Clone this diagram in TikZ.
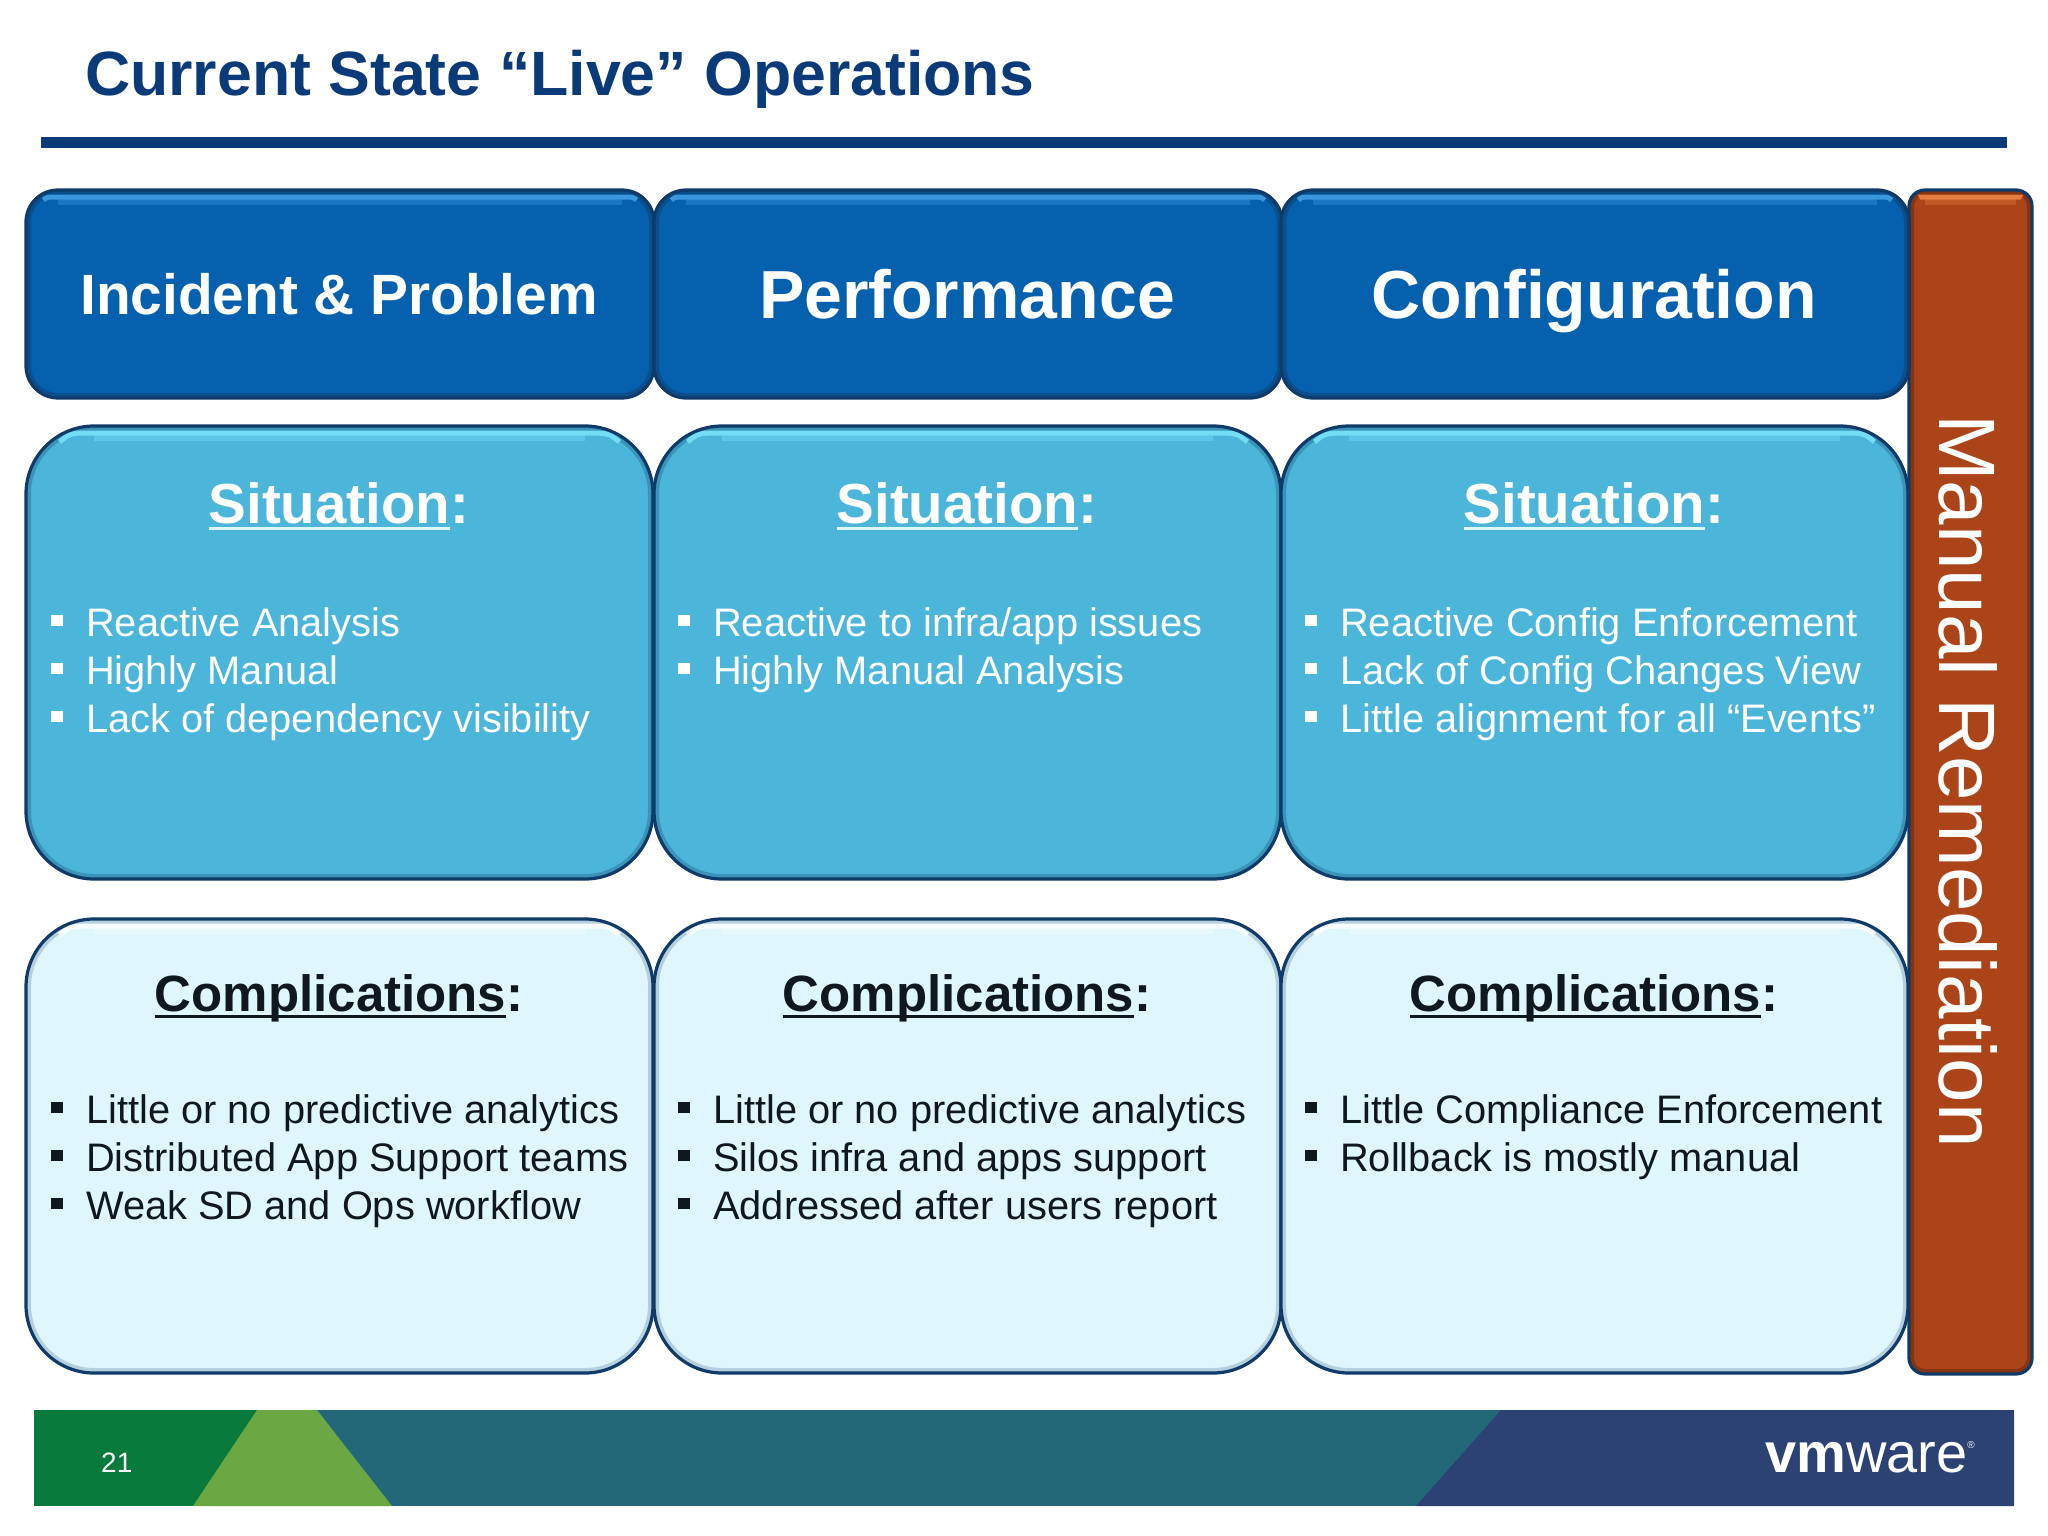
\documentclass[tikz,border=0pt]{standalone}
\usepackage{fontspec}
\setmainfont{Liberation Sans}
\definecolor{titleblue}{HTML}{0B3A78}
\definecolor{outlinenavy}{HTML}{103A68}
\definecolor{hdrbase}{HTML}{0560AE}
\definecolor{hdrhi}{HTML}{3A97DE}
\definecolor{hdredge}{HTML}{0A4E8C}
\definecolor{sitbase}{HTML}{4BB5DA}
\definecolor{sithi}{HTML}{72DDF5}
\definecolor{sitedge}{HTML}{3A93B8}
\definecolor{cmpbase}{HTML}{DFF6FD}
\definecolor{cmphi}{HTML}{F7FDFF}
\definecolor{cmpedge}{HTML}{B4D0DE}
\definecolor{orgbase}{HTML}{AB4419}
\definecolor{orghi}{HTML}{E57C40}
\definecolor{orgedge}{HTML}{86330F}
\definecolor{inkdark}{HTML}{10181F}
\definecolor{bgreen}{HTML}{087A3B}
\definecolor{blight}{HTML}{6BA843}
\definecolor{bteal}{HTML}{226878}
\definecolor{bnavy}{HTML}{2C4272}
\newcommand{\ulword}[2]{\setbox0\hbox{#2}\rlap{\color{#1}\rule[-7pt]{\wd0}{3.5pt}}\box0}
\newcommand{\itemrow}[2]{\makebox[35pt][l]{\rule[10pt]{12pt}{11pt}}#2}
\tikzset{
  panel/.style n args={5}{
    anchor=north west, inner sep=0pt, outer sep=0pt,
    rounded corners=#5pt, fill=#1, draw=#4, line width=3.2pt,
    path picture={
      \draw[#3, line width=10pt, rounded corners=#5pt]
        (path picture bounding box.south west) rectangle
        (path picture bounding box.north east);
      \fill[#2, opacity=.4, sharp corners]
        ([xshift=#5*1pt,yshift=-5pt]path picture bounding box.north west) rectangle
        ([xshift=-#5*1pt,yshift=-15pt]path picture bounding box.north east);
      \draw[#2, line width=5pt, sharp corners]
        ([xshift=#5*0.45pt+3pt,yshift=-#5*0.16pt-5pt]path picture bounding box.north west)
        .. controls ([xshift=#5*0.65pt,yshift=-7pt]path picture bounding box.north west)
        .. ([xshift=#5*1pt,yshift=-7pt]path picture bounding box.north west)
        -- ([xshift=-#5*1pt,yshift=-7pt]path picture bounding box.north east)
        .. controls ([xshift=-#5*0.65pt,yshift=-7pt]path picture bounding box.north east)
        .. ([xshift=-#5*0.45pt-3pt,yshift=-#5*0.16pt-5pt]path picture bounding box.north east);
    }},
  hdrbox/.style={panel={hdrbase}{hdrhi}{hdredge}{outlinenavy}{32},
    minimum width=628pt, minimum height=208pt},
  sitbox/.style={panel={sitbase}{sithi}{sitedge}{outlinenavy}{68},
    minimum width=627pt, minimum height=453pt},
  cmpbox/.style={panel={cmpbase}{cmphi}{cmpedge}{outlinenavy}{68},
    minimum width=627pt, minimum height=454pt},
  sidebox/.style={panel={orgbase}{orghi}{orgedge}{outlinenavy}{16},
    minimum width=123pt, minimum height=1184pt},
  hdrtext/.style={anchor=base, inner sep=0pt, text=white,
    font=\fontsize{68}{68}\selectfont\bfseries},
  sitlabel/.style={anchor=base, inner sep=0pt, text=white,
    font=\fontsize{56.5}{56.5}\selectfont\bfseries},
  cmplabel/.style={anchor=base, inner sep=0pt, text=inkdark,
    font=\fontsize{51}{51}\selectfont\bfseries},
  sititem/.style={anchor=base west, inner sep=0pt, text=white,
    font=\fontsize{39.8}{40}\selectfont},
  cmpitem/.style={anchor=base west, inner sep=0pt, text=inkdark,
    font=\fontsize{39.8}{40}\selectfont},
}
\begin{document}
\begin{tikzpicture}[x=1pt,y=-1pt]
\fill[white] (0,0) rectangle (2048,1536);
\useasboundingbox (0,0) rectangle (2048,1536);

% title
\node[anchor=base west, inner sep=0pt, text=titleblue,
  font=\fontsize{62.6}{62.6}\selectfont\bfseries] (title) at (85,96)
  {Current State “Live” Operations};
\fill[titleblue] (41,137) rectangle (2007,148);

% side box
\node[sidebox] (side) at (1909,190) {};
\node[anchor=center, inner sep=0pt, text=white, rotate=-90,
  font=\fontsize{80}{80}\selectfont] (sidetext) at (1968,781)
  {Manual Remediation};

% headers
\node[hdrbox] (h1) at (26,190) {};
\node[hdrbox] (h2) at (654,190) {};
\node[hdrbox] (h3) at (1281,190) {};
\node[hdrtext, font=\fontsize{56.8}{56.8}\selectfont\bfseries] (h1t) at (339,314) {Incident \& Problem};
\node[hdrtext] (h2t) at (967,318) {Performance};
\node[hdrtext] (h3t) at (1594,318) {Configuration};

% situation boxes
\node[sitbox] (s1) at (26,426) {};
\node[sitbox] (s2) at (654,426) {};
\node[sitbox] (s3) at (1281,426) {};
\node[sitlabel] (s1t) at (339,523) {\ulword{cmpbase}{Situation}:};
\node[sitlabel] (s2t) at (967,523) {\ulword{cmpbase}{Situation}:};
\node[sitlabel] (s3t) at (1594,523) {\ulword{cmpbase}{Situation}:};
\node[sititem] (s1a) at (51,636) {\itemrow{}{Reactive Analysis}};
\node[sititem] (s1b) at (51,684) {\itemrow{}{Highly Manual}};
\node[sititem] (s1c) at (51,732) {\itemrow{}{Lack of dependency visibility}};
\node[sititem] (s2a) at (678,636) {\itemrow{}{Reactive to infra/app issues}};
\node[sititem] (s2b) at (678,684) {\itemrow{}{Highly Manual Analysis}};
\node[sititem] (s3a) at (1305,636) {\itemrow{}{Reactive Config Enforcement}};
\node[sititem] (s3b) at (1305,684) {\itemrow{}{Lack of Config Changes View}};
\node[sititem] (s3c) at (1305,732) {\itemrow{}{Little alignment for all “Events”}};

% complication boxes
\node[cmpbox] (c1) at (26,919) {};
\node[cmpbox] (c2) at (654,919) {};
\node[cmpbox] (c3) at (1281,919) {};
\node[cmplabel] (c1t) at (339,1011) {\ulword{inkdark}{Complications}:};
\node[cmplabel] (c2t) at (967,1011) {\ulword{inkdark}{Complications}:};
\node[cmplabel] (c3t) at (1594,1011) {\ulword{inkdark}{Complications}:};
\node[cmpitem] (c1a) at (51,1123) {\itemrow{}{Little or no predictive analytics}};
\node[cmpitem] (c1b) at (51,1171) {\itemrow{}{Distributed App Support teams}};
\node[cmpitem] (c1c) at (51,1219) {\itemrow{}{Weak SD and Ops workflow}};
\node[cmpitem] (c2a) at (678,1123) {\itemrow{}{Little or no predictive analytics}};
\node[cmpitem] (c2b) at (678,1171) {\itemrow{}{Silos infra and apps support}};
\node[cmpitem] (c2c) at (678,1219) {\itemrow{}{Addressed after users report}};
\node[cmpitem] (c3a) at (1305,1123) {\itemrow{}{Little Compliance Enforcement}};
\node[cmpitem] (c3b) at (1305,1171) {\itemrow{}{Rollback is mostly manual}};

% footer band
\fill[bgreen] (34,1410) rectangle (260,1506);
\fill[bteal] (300,1410) rectangle (1510,1506);
\fill[bnavy] (1501,1410) -- (2014,1410) -- (2014,1506) -- (1416,1506) -- cycle;
\fill[blight] (257,1410) -- (317,1410) -- (392,1506) -- (193,1506) -- cycle;
\node[anchor=base west, inner sep=0pt, text=white,
  font=\fontsize{28}{28}\selectfont] (pageno) at (101,1472) {21};
\node[anchor=base east, inner sep=0pt, text=white,
  font=\fontsize{56}{56}\selectfont] (logo) at (1975,1472)
  {\textbf{vm}ware\raisebox{24pt}{\fontsize{10}{10}\selectfont ®}};
\end{tikzpicture}
\end{document}
